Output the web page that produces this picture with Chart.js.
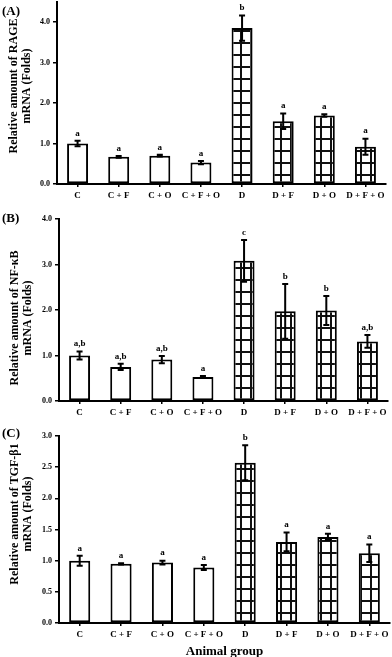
<!DOCTYPE html>
<html>
<head>
<meta charset="utf-8">
<script src="https://cdn.jsdelivr.net/npm/chart.js@4.4.1/dist/chart.umd.min.js"></script>
<style>
  html, body { margin: 0; padding: 0; background: #fff; overflow: hidden; }
  #wrap { position: relative; width: 392px; height: 657px; overflow: hidden; }
  .panel { position: absolute; left: 0; width: 392px; }
</style>
</head>
<body>
<div id="wrap">
  <div class="panel" style="top:-6px;height:211px"><canvas id="chartA"></canvas></div>
  <div class="panel" style="top:207px;height:213px"><canvas id="chartB"></canvas></div>
  <div class="panel" style="top:420px;height:237px"><canvas id="chartC"></canvas></div>
</div>
<script>
// data
const groups = ['C', 'C + F', 'C + O', 'C + F + O', 'D', 'D + F', 'D + O', 'D + F + O'];

const rageMean = [1.00, 0.67, 0.70, 0.53, 3.85, 1.55, 1.69, 0.92];
const rageErr  = [0.07, 0.02, 0.02, 0.04, 0.31, 0.19, 0.03, 0.20];
const rageSig  = ['a', 'a', 'a', 'a', 'b', 'a', 'a', 'a'];

const nfkbMean = [1.00, 0.75, 0.91, 0.53, 3.08, 1.97, 1.99, 1.31];
const nfkbErr  = [0.09, 0.07, 0.08, 0.02, 0.46, 0.60, 0.32, 0.14];
const nfkbSig  = ['a,b', 'a,b', 'a,b', 'a', 'c', 'b', 'b', 'a,b'];

const tgfMean = [1.00, 0.95, 0.97, 0.89, 2.57, 1.30, 1.38, 1.12];
const tgfErr  = [0.08, 0.01, 0.03, 0.04, 0.28, 0.15, 0.05, 0.14];
const tgfSig  = ['a', 'a', 'a', 'a', 'b', 'a', 'a', 'a'];

const serif = '"Liberation Serif", "Times New Roman", serif';
Chart.defaults.font.family = serif;
Chart.defaults.font.weight = 'bold';
Chart.defaults.color = '#000';

// grid hatch for the diabetic groups
function gridPattern(ctx) {
  const c = document.createElement('canvas');
  c.width = 10; c.height = 12;
  const g = c.getContext('2d');
  g.fillStyle = '#fff';
  g.fillRect(0, 0, 10, 12);
  g.fillStyle = '#111';
  g.fillRect(0, 0, 2, 12);
  g.fillRect(0, 0, 10, 2);
  return ctx.createPattern(c, 'repeat');
}

// error bars + significance letters
const errorBars = {
  id: 'errorBars',
  afterDatasetsDraw(chart, args, opts) {
    const ctx = chart.ctx;
    const y = chart.scales.y;
    const vals = chart.data.datasets[0].data;
    ctx.save();
    ctx.strokeStyle = '#000';
    ctx.fillStyle = '#000';
    ctx.lineWidth = 2;
    chart.getDatasetMeta(0).data.forEach((bar, i) => {
      const top = y.getPixelForValue(vals[i] + opts.errors[i]);
      const bot = y.getPixelForValue(vals[i] - opts.errors[i]);
      ctx.beginPath();
      ctx.moveTo(bar.x, top); ctx.lineTo(bar.x, bot);
      ctx.moveTo(bar.x - 3, top); ctx.lineTo(bar.x + 3, top);
      ctx.moveTo(bar.x - 3, bot); ctx.lineTo(bar.x + 3, bot);
      ctx.stroke();
      ctx.font = 'bold 9px ' + serif;
      ctx.textAlign = 'center';
      ctx.textBaseline = 'bottom';
      ctx.fillText(opts.letters[i], bar.x, top - 3);
    });
    ctx.restore();
  }
};

// panel letter and the two-line y title
const sideText = {
  id: 'sideText',
  afterDraw(chart, args, opts) {
    const ctx = chart.ctx;
    ctx.save();
    ctx.fillStyle = '#000';
    ctx.font = 'bold 13px ' + serif;
    ctx.textAlign = 'left';
    ctx.textBaseline = 'top';
    ctx.fillText(opts.label, 2, opts.labelY);
    ctx.font = 'bold 12px ' + serif;
    ctx.translate(opts.titleX, opts.titleY);
    ctx.rotate(-Math.PI / 2);
    ctx.textAlign = 'center';
    ctx.textBaseline = 'middle';
    opts.title.forEach((line, i) => ctx.fillText(line, 0, i * 13));
    ctx.restore();
  }
};

function makeChart(id, means, errs, letters, cfg) {
  const ctx = document.getElementById(id).getContext('2d');
  const hatch = gridPattern(ctx);
  const fills = groups.map(g => g.startsWith('D') ? hatch : '#fff');
  return new Chart(ctx, {
    type: 'bar',
    data: {
      labels: groups,
      datasets: [{
        data: means,
        backgroundColor: fills,
        borderColor: '#000',
        borderWidth: 2,
        borderSkipped: false,
        categoryPercentage: 1,
        barPercentage: 0.51
      }]
    },
    options: {
      responsive: true,
      maintainAspectRatio: false,
      animation: false,
      layout: { autoPadding: false, padding: { top: cfg.top, right: cfg.right, left: 0, bottom: 0 } },
      plugins: {
        legend: { display: false },
        tooltip: { enabled: false },
        errorBars: { errors: errs, letters: letters },
        sideText: cfg.side
      },
      scales: {
        x: {
          grid: { display: true, offset: false, drawOnChartArea: false, tickLength: 3, color: '#000', lineWidth: 1.5 },
          border: { display: true, color: '#000', width: 2 },
          ticks: { font: { size: 9, weight: 'bold' }, padding: 3, maxRotation: 0, autoSkip: false },
          title: cfg.xTitle ? { display: true, text: cfg.xTitle, font: { size: 13, weight: 'bold', lineHeight: 0.8 }, padding: 0 } : { display: false },
          afterFit(scale) { scale.height = cfg.xHeight; }
        },
        y: {
          min: 0,
          max: cfg.max,
          ticks: { stepSize: cfg.step, font: { size: 8, weight: 'bold' }, padding: 3, callback: v => v.toFixed(1) },
          afterBuildTicks(scale) {
            scale.ticks = scale.ticks.filter(t => Math.abs(t.value / cfg.step - Math.round(t.value / cfg.step)) < 1e-6);
          },
          grid: { display: true, drawOnChartArea: false, tickLength: 4, color: '#000', lineWidth: 1.5 },
          border: { display: true, color: '#000', width: 2 },
          afterFit(scale) { scale.width = cfg.axisX; }
        }
      }
    },
    plugins: [errorBars, sideText]
  });
}

makeChart('chartA', rageMean, rageErr, rageSig, {
  max: 4.5, step: 1, top: 7, right: 6, axisX: 57, xHeight: 21,
  side: { label: '(A)', labelY: 11, title: ['Relative amount of RAGE', 'mRNA (Folds)'], titleX: 14, titleY: 92 }
});

makeChart('chartB', nfkbMean, nfkbErr, nfkbSig, {
  max: 4, step: 1, top: 12, right: 4, axisX: 59, xHeight: 19,
  side: { label: '(B)', labelY: 5, title: ['Relative amount of NF-\u03baB', 'mRNA (Folds)'], titleX: 15, titleY: 111 }
});

makeChart('chartC', tgfMean, tgfErr, tgfSig, {
  max: 3, step: 0.5, top: 16, right: 2, axisX: 59, xHeight: 34, xTitle: 'Animal group',
  side: { label: '(C)', labelY: 7, title: ['Relative amount of TGF-\u03b21', 'mRNA (Folds)'], titleX: 15, titleY: 94 }
});
</script>
</body>
</html>
